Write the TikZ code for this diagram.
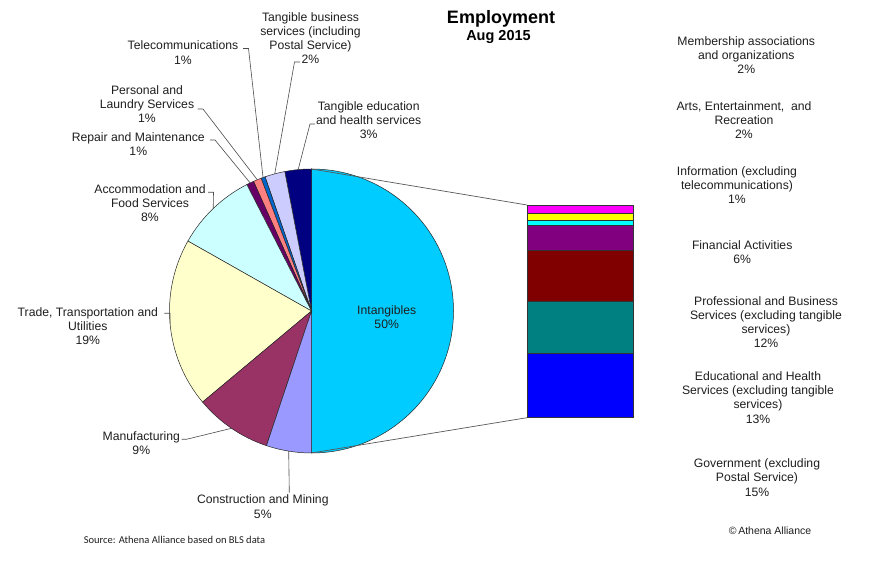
\documentclass[tikz,border=0pt]{standalone}
\usepackage{fontspec}
\setmainfont{Liberation Sans}
\newfontfamily\carlitofont{Carlito}
\definecolor{cIntang}{HTML}{00CCFF}
\definecolor{cCons}{HTML}{9999FF}
\definecolor{cManu}{HTML}{993366}
\definecolor{cTrade}{HTML}{FFFFCC}
\definecolor{cAcc}{HTML}{CCFFFF}
\definecolor{cRep}{HTML}{660066}
\definecolor{cPers}{HTML}{FF8080}
\definecolor{cTel}{HTML}{0066CC}
\definecolor{cTB}{HTML}{CCCCFF}
\definecolor{cTE}{HTML}{000080}
\definecolor{bMemb}{HTML}{FF00FF}
\definecolor{bArts}{HTML}{FFFF00}
\definecolor{bInfo}{HTML}{00FFFF}
\definecolor{bFin}{HTML}{800080}
\definecolor{bProf}{HTML}{800000}
\definecolor{bEdu}{HTML}{008080}
\definecolor{bGov}{HTML}{0000FF}
\newcommand\mypieslice[3]{\filldraw[slice, fill=#3] (C) -- ++(#1:\myR) arc[start angle=#1, end angle=#2, radius=\myR] -- cycle;}
\def\myR{142}
\begin{document}
\begin{tikzpicture}[x=1pt,y=1pt,
  lbl/.style={font=\fontsize{12.2}{14.2}\selectfont, align=center, inner sep=0pt, text=black!88},
  slice/.style={draw=black!85, line width=0.5pt},
  leader/.style={draw=black!70, line width=0.6pt},
  link/.style={draw=black!65, line width=0.7pt},
  barseg/.style={draw=black!80, line width=0.5pt}]
\useasboundingbox[fill=white] (0,0) rectangle (871,565);
\coordinate (C) at (311.5,254);
% pie
\mypieslice{-90}{90}{cIntang}
\mypieslice{90}{100.85}{cTE}
\mypieslice{100.85}{109.1}{cTB}
\mypieslice{109.1}{110.8}{cTel}
\mypieslice{110.8}{114.1}{cPers}
\mypieslice{114.1}{117.1}{cRep}
\mypieslice{117.1}{150.5}{cAcc}
\mypieslice{150.5}{219.9}{cTrade}
\mypieslice{219.9}{251.5}{cManu}
\mypieslice{251.5}{270}{cCons}
% slice mid points on the rim
\path (C) ++(95.4:\myR) coordinate (mTE);
\path (C) ++(105:\myR) coordinate (mTB);
\path (C) ++(109.95:\myR) coordinate (mTel);
\path (C) ++(112.45:\myR) coordinate (mPers);
\path (C) ++(115.6:\myR) coordinate (mRep);
\path (C) ++(133.8:\myR) coordinate (mAcc);
\path (C) ++(185.2:\myR) coordinate (mTrade);
\path (C) ++(235.7:\myR) coordinate (mManu);
\path (C) ++(260.75:\myR) coordinate (mCons);
\path (C) ++(90:\myR) coordinate (pTop);
\path (C) ++(-90:\myR) coordinate (pBot);
% bar of pie
\coordinate (barTL) at (527,360);
\coordinate (barBL) at (527,147.3);
\draw[link] (pTop) -- (barTL);
\draw[link] (pBot) -- (barBL);
\filldraw[barseg, fill=bGov]  (527,147.3) rectangle (633,211.7);
\filldraw[barseg, fill=bEdu]  (527,211.7) rectangle (633,264);
\filldraw[barseg, fill=bProf] (527,264) rectangle (633,314.3);
\filldraw[barseg, fill=bFin]  (527,314.3) rectangle (633,340);
\filldraw[barseg, fill=bInfo] (527,340) rectangle (633,345);
\filldraw[barseg, fill=bArts] (527,345) rectangle (633,351.7);
\filldraw[barseg, fill=bMemb] (527,351.7) rectangle (633,360);
% title
\node[font=\bfseries\fontsize{18}{20}\selectfont, inner sep=0pt] (title) at (501,546) {Employment};
\node[font=\bfseries\fontsize{14.5}{16}\selectfont, inner sep=0pt] (date) at (498.5,528) {Aug 2015};
% pie labels
\node[lbl] (lTB) at (310.5,527) {Tangible business\\services (including\\Postal Service)\\2\%};
\node[lbl] (lTE) at (368.7,445) {Tangible education\\and health services\\3\%};
\node[lbl] (lTel) at (183,512.3) {Telecommunications\\1\%};
\node[lbl] (lPers) at (147,461) {Personal and\\Laundry Services\\1\%};
\node[lbl] (lRep) at (138.3,421) {Repair and Maintenance\\1\%};
\node[lbl] (lAcc) at (150,362) {Accommodation and\\Food Services\\8\%};
\node[lbl] (lTrade) at (87.8,238.8) {Trade, Transportation and\\Utilities\\19\%};
\node[lbl] (lManu) at (141.3,122.2) {Manufacturing\\9\%};
\node[lbl] (lCons) at (262.8,58.3) {Construction and Mining\\5\%};
\node[lbl] (lIntang) at (386.7,247.7) {Intangibles\\50\%};
% bar labels
\node[lbl] (lMemb) at (746.3,510) {Membership associations\\and organizations\\2\%};
\node[lbl] (lArts) at (744,445) {Arts, Entertainment,~ and\\Recreation\\2\%};
\node[lbl] (lInfo) at (737,379.8) {Information (excluding\\telecommunications)\\1\%};
\node[lbl] (lFin) at (742.2,312.5) {Financial Activities\\6\%};
\node[lbl] (lProf) at (766,242.8) {Professional and Business\\Services (excluding tangible\\services)\\12\%};
\node[lbl] (lEdu) at (758,167.5) {Educational and Health\\Services (excluding tangible\\services)\\13\%};
\node[lbl] (lGov) at (757,87.5) {Government (excluding\\Postal Service)\\15\%};
% footers
\node[font=\carlitofont\fontsize{10.5}{12}\selectfont, inner sep=0pt, text=black!88] (src) at (174.5,25) {Source: Athena Alliance based on BLS data};
\node[font=\fontsize{10.5}{12}\selectfont, inner sep=0pt, text=black!88] (copy) at (770,34.3) {\textcopyright\,Athena Alliance};
% leader lines
\coordinate (tTel) at (243,516.5);
\coordinate (tPers) at (197.5,456);
\coordinate (tRep) at (210,425);
\coordinate (tTB) at (300,503);
\coordinate (tTE) at (315,441);
\coordinate (tAcc) at (208,372.7);
\coordinate (tTrade) at (164.3,251.7);
\coordinate (tManu) at (181.7,125.7);
\coordinate (tCons) at (289.3,72.3);
\draw[leader] (tTel) -- ++(5.5,0) -- (mTel);
\draw[leader] (tPers) -- ++(5.5,0) -- (mPers);
\draw[leader] (tRep) -- ++(5,0) -- (mRep);
\draw[leader] (tTB) -- ++(-5.5,0) -- (mTB);
\draw[leader] (tTE) -- ++(-5,0) -- (mTE);
\draw[leader] (tAcc) -- ++(5.5,0) -- (mAcc);
\draw[leader] (tTrade) -- ++(5.8,0) -- (mTrade);
\draw[leader] (tManu) -- ++(4.8,0) -- (mManu);
\draw[leader] (mCons) -- (tCons);
\end{tikzpicture}
\end{document}
